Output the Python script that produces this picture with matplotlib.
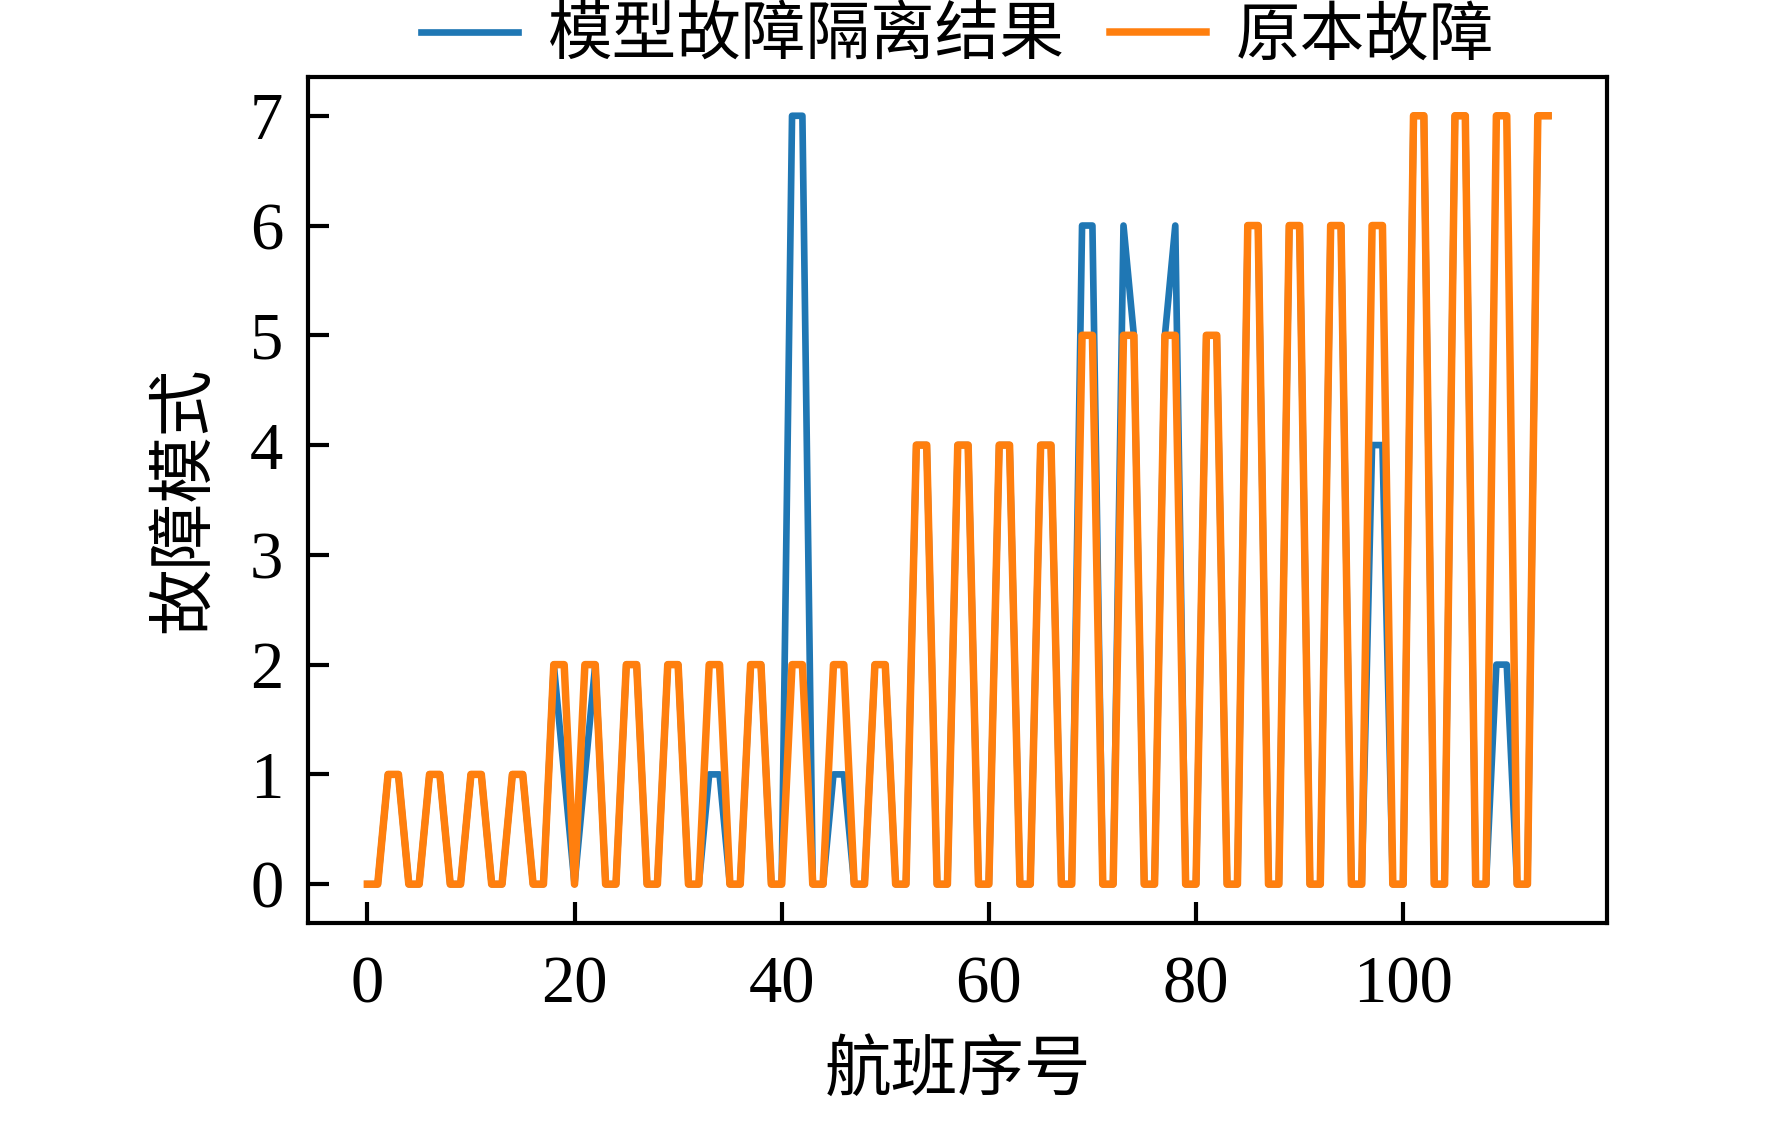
import matplotlib
matplotlib.use('Agg')
import matplotlib.pyplot as plt
import numpy as np

plt.rcParams['font.family'] = ['Liberation Serif', 'Noto Sans CJK SC']
plt.rcParams['axes.unicode_minus'] = False

# 原本故障 (true fault mode per flight)
true_fault = [0, 0, 1, 1, 0, 0, 1, 1, 0, 0, 1, 1, 0, 0, 1, 1, 0, 0, 2, 2,
              0, 2, 2, 0, 0, 2, 2, 0, 0, 2, 2, 0, 0, 2, 2, 0, 0, 2, 2, 0,
              0, 2, 2, 0, 0, 2, 2, 0, 0, 2, 2, 0, 0, 4, 4, 0, 0, 4, 4, 0,
              0, 4, 4, 0, 0, 4, 4, 0, 0, 5, 5, 0, 0, 5, 5, 0, 0, 5, 5, 0,
              0, 5, 5, 0, 0, 6, 6, 0, 0, 6, 6, 0, 0, 6, 6, 0, 0, 6, 6, 0,
              0, 7, 7, 0, 0, 7, 7, 0, 0, 7, 7, 0, 0, 7, 7]

# 模型故障隔离结果 (model isolation result)
model_fault = [0, 0, 1, 1, 0, 0, 1, 1, 0, 0, 1, 1, 0, 0, 1, 1, 0, 0, 2, 1,
               0, 1, 2, 0, 0, 2, 2, 0, 0, 2, 2, 0, 0, 1, 1, 0, 0, 2, 2, 0,
               0, 7, 7, 0, 0, 1, 1, 0, 0, 2, 2, 0, 0, 4, 4, 0, 0, 4, 4, 0,
               0, 4, 4, 0, 0, 4, 4, 0, 0, 6, 6, 0, 0, 6, 5, 0, 0, 5, 6, 0,
               0, 5, 5, 0, 0, 6, 6, 0, 0, 6, 6, 0, 0, 6, 6, 0, 0, 4, 4, 0,
               0, 7, 7, 0, 0, 7, 7, 0, 0, 2, 2, 0, 0, 7, 7]

flights = np.arange(len(true_fault))

fig = plt.figure(figsize=(1772 / 300, 1121 / 300), dpi=300)
ax = fig.add_axes([0.174, 0.177, 0.733, 0.754])

ax.plot(flights, model_fault, color='#1f77b4', lw=1.6, label='模型故障隔离结果')
ax.plot(flights, true_fault, color='#ff7f0e', lw=1.8, label='原本故障')

ax.set_xticks([0, 20, 40, 60, 80, 100])
ax.set_yticks(range(8))
ax.tick_params(axis='both', direction='in', length=5, width=1.0,
               labelsize=16, pad=6)
ax.tick_params(axis='x', pad=8)
for sp in ax.spines.values():
    sp.set_linewidth(1.0)

ax.set_xlabel('航班序号', fontsize=16, labelpad=6)
ax.set_ylabel('故障模式', fontsize=16, labelpad=8)

ax.legend(loc='center', bbox_to_anchor=(0.5, 1.046), ncol=2, frameon=False,
          fontsize=15.5, handlelength=1.5, handletextpad=0.45,
          columnspacing=0.7)

fig.savefig('out.png', dpi=300)
